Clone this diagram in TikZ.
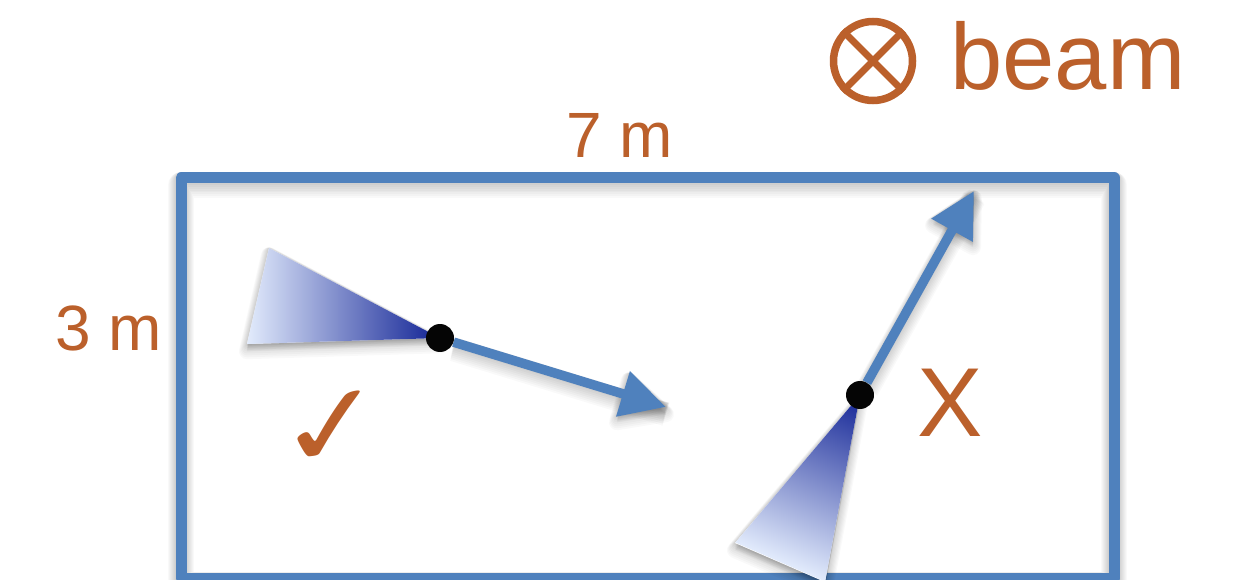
\documentclass[tikz,border=0pt]{standalone}
\usepackage{fontspec}
\usepackage{graphicx}
\setmainfont{Liberation Sans}
\newfontfamily\symfont{DejaVu Sans Bold}
\usetikzlibrary{arrows.meta}
\definecolor{frameblue}{HTML}{4F81BD}
\definecolor{labelorange}{HTML}{BB602B}
\definecolor{conedark}{HTML}{1E2F9B}
\definecolor{conelight}{HTML}{E2EBFC}
\tikzset{
  x=1pt,y=-1pt,
  label text/.style={text=labelorange,inner sep=0pt,anchor=base west,font=\fontsize{64}{64}\selectfont},
  big text/.style={label text,font=\fontsize{98}{98}\selectfont},
  pivot/.style={circle,fill=black!98,minimum size=28pt,inner sep=0pt},
  beam arrow/.style={draw=frameblue,line width=9.5pt,-{Triangle[length=45pt,width=45pt,fill=frameblue]}},
  soft layer/.style={transform canvas={yshift=-0.45*#1 pt},black,opacity=.024,line join=round},
}
\newcommand{\softlayers}[1]{\foreach \w in {2,4,...,16}{#1}}
\begin{document}
\begin{tikzpicture}
\useasboundingbox (0,0) rectangle (1235,580);
\clip (0,0) rectangle (1235,580);
\fill[white] (0,0) rectangle (1235,580);

% anchor points
\coordinate (c1) at (269,248);
\coordinate (c2) at (247,344);
\coordinate (c3) at (735,543);
\coordinate (c4) at (825,582);
\coordinate (tipA) at (666,407);
\coordinate (tipB) at (974,191);
\node[pivot,opacity=0] (dotA) at (440,338) {};
\node[pivot,opacity=0] (dotB) at (860,395) {};

% frame shadow and frame
\softlayers{\draw[soft layer=\w,line width=10pt+\w pt] (181,178) rectangle (1114,578);}
\draw[frameblue,line width=11pt,line join=round] (181,178) rectangle (1114,578);

% shadows of cones and arrows
\softlayers{
  \path[soft layer=\w,fill=black,draw=black,line width=\w pt] (dotA.center) -- (c1) -- (c2) -- cycle;
  \path[soft layer=\w,fill=black,draw=black,line width=\w pt] (dotB.center) -- (c3) -- (c4) -- cycle;
  \draw[soft layer=\w,line width=8pt+\w pt] (dotA) -- (tipA);
  \draw[soft layer=\w,line width=8pt+\w pt] (dotB) -- (tipB);
  \path[soft layer=\w,fill=black,draw=black,line width=\w pt] (629,373) -- (tipA) -- (617,415) -- cycle;
  \path[soft layer=\w,fill=black,draw=black,line width=\w pt] (933,218) -- (tipB) -- (973,240) -- cycle;
}

% cones
\fill[white] (dotA.center) -- (c1) -- (c2) -- cycle;
\fill[white] (dotB.center) -- (c3) -- (c4) -- cycle;
\begin{scope}
  \clip (dotA.center) -- (c1) -- (c2) -- cycle;
  \shade[left color=conelight,right color=conedark] (247,240) rectangle (428,350);
  \fill[conedark] (428,240) rectangle (445,350);
\end{scope}
\begin{scope}
  \clip (dotB.center) -- (c3) -- (c4) -- cycle;
  \shade[transform canvas={rotate around={-113.5:(860,395)}},left color=conedark,right color=conelight] (870,195) rectangle (1045,595);
  \fill[transform canvas={rotate around={-113.5:(860,395)}},conedark] (850,195) rectangle (870,595);
\end{scope}

% arrows
\draw[beam arrow] (dotA) -- (tipA);
\draw[beam arrow] (dotB) -- (tipB);

% pivots
\node[pivot] (dotA2) at (dotA) {};
\node[pivot] (dotB2) at (dotB) {};

% labels
\node[label text] (len) at (566,158) {7 m};
\node[label text] (wid) at (55,350) {3 m};
\node[big text] (cross) at (917,436) {X};
\node[label text,font=\fontsize{94}{94}\selectfont] (beam) at (950,90) {beam};
\node[text=labelorange,inner sep=0pt,anchor=center,rotate=8,font=\symfont\fontsize{110}{110}\selectfont] (check) at (332,429) {\scalebox{1.2}[1]{✓}};

% beam symbol
\node[circle,draw=labelorange,line width=7.5pt,minimum size=79pt,inner sep=0pt] (sym) at (873,61) {};
\draw[labelorange,line width=7pt] (sym.45) -- (sym.225);
\draw[labelorange,line width=7pt] (sym.135) -- (sym.315);
\end{tikzpicture}
\end{document}
